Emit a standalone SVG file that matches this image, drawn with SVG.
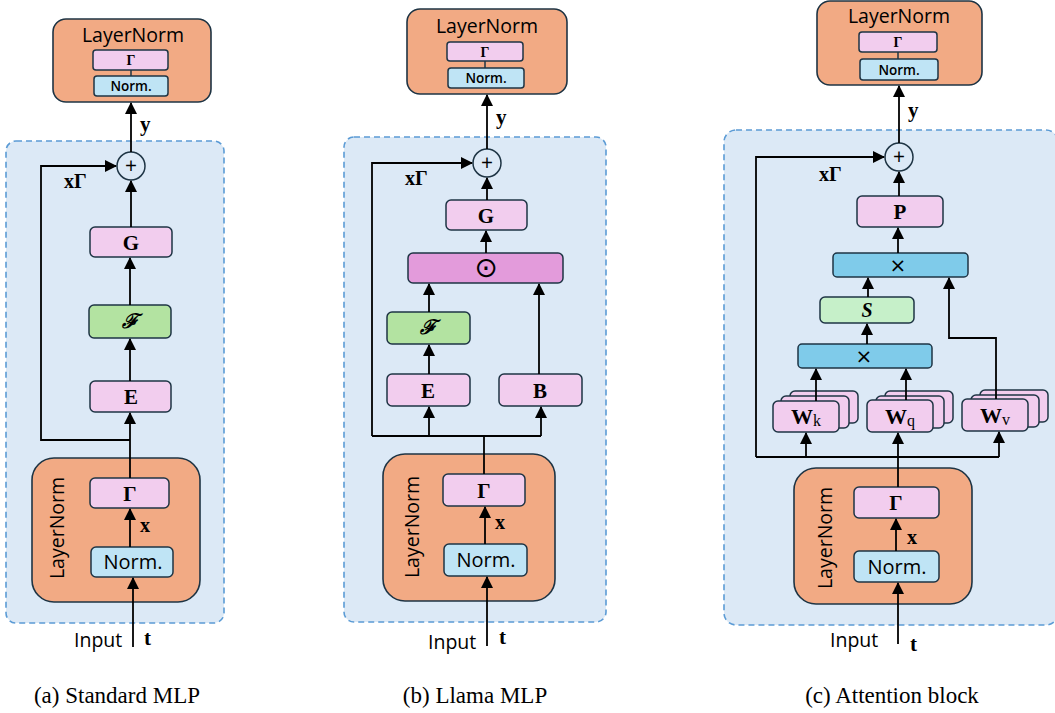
<svg xmlns="http://www.w3.org/2000/svg" width="1055" height="713" viewBox="0 0 1055 713">
<style>
  .panel{fill:#DCE9F6;stroke:#5B9BD5;stroke-width:1.6;stroke-dasharray:6 4}
  .ln{fill:#F2AA84;stroke:#1E3444;stroke-width:1.6}
  .pink{fill:#F2CDEE;stroke:#1E3444;stroke-width:1.5}
  .norm{fill:#BFE4F5;stroke:#1E3444;stroke-width:1.5}
  .green{fill:#B3E3A1;stroke:#1E3444;stroke-width:1.5}
  .lgreen{fill:#C6F0C9;stroke:#1E3444;stroke-width:1.5}
  .mag{fill:#E39BDB;stroke:#1E3444;stroke-width:1.5}
  .blue{fill:#7FCBEA;stroke:#1E3444;stroke-width:1.5}
  .sum{fill:#DCE9F6;stroke:#1E3444;stroke-width:1.5}
  .wire{fill:none;stroke:#000;stroke-width:1.8}
  .arr{fill:none;stroke:#000;stroke-width:1.8;marker-end:url(#ah)}
  .sans{font-family:"Open Sans","Liberation Sans",sans-serif;fill:#000}
  .math{font-family:"Liberation Serif",serif;font-weight:bold;fill:#000}
  .cap{font-family:"Liberation Serif",serif;font-size:23px;fill:#000}
  .mid{text-anchor:middle}
  .script{font-family:"DejaVu Serif",serif;font-style:italic;font-weight:bold;font-size:20px}
</style>
<defs>
  <marker id="ah" markerUnits="userSpaceOnUse" markerWidth="12" markerHeight="12" refX="11" refY="6" orient="auto">
    <path d="M0,0 L12,6 L0,12 z" fill="#000"/>
  </marker>
</defs>

<!-- ===================== (a) Standard MLP ===================== -->
<g id="a-panel"><rect class="panel" x="6" y="141" width="218" height="482" rx="10"/></g>

<g id="a-ln-top">
  <rect class="ln" x="53" y="19" width="158" height="83" rx="13"/>
  <text class="sans mid" x="133" y="42" font-size="19.5">LayerNorm</text>
  <line x1="131" y1="70" x2="131" y2="76" stroke="#1E3444" stroke-width="1.5"/>
  <rect class="pink" x="93" y="50" width="75" height="20" rx="3"/>
  <text class="math mid" x="131" y="65" font-size="14">Γ</text>
  <rect class="norm" x="94" y="76" width="74" height="20" rx="3"/>
  <text class="sans mid" x="131" y="91" font-size="13.5" font-weight="600">Norm.</text>
</g>

<g id="a-sum">
  <circle class="sum" cx="131" cy="166" r="14"/>
  <text class="sans mid" x="131" y="173" font-size="21">+</text>
</g>
<g id="a-G"><rect class="pink" x="90" y="227" width="82" height="30" rx="5"/><text class="math mid" x="131" y="250" font-size="21">G</text></g>
<g id="a-F"><rect class="green" x="89" y="305" width="82" height="33" rx="5"/><text class="script mid" x="130" y="328">ℱ</text></g>
<g id="a-E"><rect class="pink" x="90" y="381" width="81" height="31" rx="5"/><text class="math mid" x="131" y="404" font-size="21">E</text></g>

<g id="a-ln-bottom">
  <rect class="ln" x="32" y="458" width="168" height="144" rx="22"/>
  <text class="sans mid" x="0" y="0" font-size="19.5" transform="translate(64,528) rotate(-90)">LayerNorm</text>
  <rect class="pink" x="90" y="478" width="79" height="30" rx="5"/>
  <text class="math mid" x="130" y="501" font-size="21">Γ</text>
  <rect class="norm" x="91" y="547" width="82" height="30" rx="5"/>
  <text class="sans mid" x="133" y="569" font-size="20">Norm.</text>
</g>

<g id="a-connectors">
  <line class="arr" x1="133" y1="647" x2="133" y2="578"/>
  <line class="arr" x1="130" y1="547" x2="130" y2="509"/>
  <line class="wire" x1="130" y1="478" x2="130" y2="440"/>
  <line class="arr" x1="130" y1="440" x2="130" y2="413"/>
  <polyline class="arr" points="130,440 41,440 41,166 116,166"/>
  <line class="arr" x1="130" y1="381" x2="130" y2="339"/>
  <line class="arr" x1="130" y1="305" x2="130" y2="258"/>
  <line class="arr" x1="131" y1="227" x2="131" y2="181"/>
  <line class="arr" x1="131" y1="152" x2="131" y2="103"/>
</g>
<g id="a-labels">
  <text class="math" x="140" y="131" font-size="21">y</text>
  <text class="math" x="64" y="188" font-size="20">xΓ</text>
  <text class="math" x="140" y="532" font-size="20">x</text>
  <text class="sans" x="74" y="647" font-size="19.5">Input</text>
  <text class="math" x="144" y="645" font-size="21">t</text>
  <text class="cap mid" x="117" y="703">(a) Standard MLP</text>
</g>

<!-- ===================== (b) Llama MLP ===================== -->
<g id="b-panel"><rect class="panel" x="344" y="137" width="262" height="485" rx="10"/></g>

<g id="b-ln-top">
  <rect class="ln" x="407" y="9" width="160" height="85" rx="13"/>
  <text class="sans mid" x="487" y="33" font-size="19.5">LayerNorm</text>
  <line x1="485" y1="61" x2="485" y2="68" stroke="#1E3444" stroke-width="1.5"/>
  <rect class="pink" x="447" y="42" width="76" height="19" rx="3"/>
  <text class="math mid" x="485" y="57" font-size="14">Γ</text>
  <rect class="norm" x="448" y="68" width="76" height="20" rx="3"/>
  <text class="sans mid" x="486" y="83" font-size="13.5" font-weight="600">Norm.</text>
</g>

<g id="b-sum">
  <circle class="sum" cx="487" cy="163" r="14"/>
  <text class="sans mid" x="487" y="170" font-size="21">+</text>
</g>
<g id="b-G"><rect class="pink" x="446" y="200" width="81" height="30" rx="5"/><text class="math mid" x="486" y="223" font-size="21">G</text></g>
<g id="b-odot"><rect class="mag" x="408" y="253" width="155" height="30" rx="5"/><text class="mid" x="486" y="277" font-size="28" font-family="DejaVu Sans,sans-serif">⊙</text></g>
<g id="b-F"><rect class="green" x="387" y="312" width="83" height="32" rx="5"/><text class="script mid" x="428" y="334">ℱ</text></g>
<g id="b-E"><rect class="pink" x="387" y="374" width="83" height="32" rx="5"/><text class="math mid" x="428" y="398" font-size="21">E</text></g>
<g id="b-B"><rect class="pink" x="499" y="374" width="83" height="32" rx="5"/><text class="math mid" x="540" y="398" font-size="21">B</text></g>

<g id="b-ln-bottom">
  <rect class="ln" x="383" y="454" width="172" height="147" rx="22"/>
  <text class="sans mid" x="0" y="0" font-size="19.5" transform="translate(419,527) rotate(-90)">LayerNorm</text>
  <rect class="pink" x="443" y="474" width="82" height="32" rx="5"/>
  <text class="math mid" x="484" y="498" font-size="21">Γ</text>
  <rect class="norm" x="444" y="544" width="83" height="32" rx="5"/>
  <text class="sans mid" x="486" y="567" font-size="20">Norm.</text>
</g>

<g id="b-connectors">
  <line class="arr" x1="487" y1="646" x2="487" y2="577"/>
  <line class="arr" x1="485" y1="544" x2="485" y2="507"/>
  <line class="wire" x1="484" y1="474" x2="484" y2="436"/>
  <polyline class="wire" points="372,436 541,436"/>
  <line class="arr" x1="429" y1="436" x2="429" y2="407"/>
  <line class="arr" x1="541" y1="436" x2="541" y2="407"/>
  <polyline class="arr" points="372,436 372,163 472,163"/>
  <line class="arr" x1="429" y1="374" x2="429" y2="345"/>
  <line class="arr" x1="429" y1="312" x2="429" y2="284"/>
  <line class="arr" x1="539" y1="374" x2="539" y2="284"/>
  <line class="arr" x1="486" y1="253" x2="486" y2="231"/>
  <line class="arr" x1="487" y1="200" x2="487" y2="178"/>
  <line class="arr" x1="487" y1="149" x2="487" y2="95"/>
</g>
<g id="b-labels">
  <text class="math" x="496" y="124" font-size="21">y</text>
  <text class="math" x="405" y="185" font-size="20">xΓ</text>
  <text class="math" x="495" y="529" font-size="20">x</text>
  <text class="sans" x="428" y="649" font-size="19.5">Input</text>
  <text class="math" x="499" y="644" font-size="21">t</text>
  <text class="cap mid" x="475" y="703">(b) Llama MLP</text>
</g>

<!-- ===================== (c) Attention block ===================== -->
<g id="c-panel"><rect class="panel" x="724" y="130" width="334" height="495" rx="12"/></g>

<g id="c-ln-top">
  <rect class="ln" x="817" y="1" width="165" height="84" rx="13"/>
  <text class="sans mid" x="899" y="23" font-size="19.5">LayerNorm</text>
  <line x1="898" y1="52" x2="898" y2="59" stroke="#1E3444" stroke-width="1.5"/>
  <rect class="pink" x="859" y="32" width="78" height="20" rx="3"/>
  <text class="math mid" x="898" y="47" font-size="14">Γ</text>
  <rect class="norm" x="860" y="59" width="78" height="21" rx="3"/>
  <text class="sans mid" x="899" y="75" font-size="13.5" font-weight="600">Norm.</text>
</g>

<g id="c-sum">
  <circle class="sum" cx="899" cy="157" r="14"/>
  <text class="sans mid" x="899" y="164" font-size="21">+</text>
</g>
<g id="c-P"><rect class="pink" x="857" y="196" width="86" height="31" rx="5"/><text class="math mid" x="900" y="219" font-size="21">P</text></g>
<g id="c-mul-top"><rect class="blue" x="833" y="253" width="135" height="24" rx="4"/><text class="mid" x="898" y="272" font-size="20" font-family="DejaVu Sans,sans-serif">×</text></g>
<g id="c-S"><rect class="lgreen" x="820" y="297" width="94" height="26" rx="5"/><text class="math mid" x="867" y="317" font-size="20" font-style="italic">S</text></g>
<g id="c-mul-low"><rect class="blue" x="798" y="344" width="134" height="24" rx="4"/><text class="mid" x="864" y="363" font-size="20" font-family="DejaVu Sans,sans-serif">×</text></g>

<g id="c-Wk">
  <rect class="pink" x="790" y="391" width="68" height="32" rx="5"/>
  <rect class="pink" x="781" y="396" width="68" height="32" rx="5"/>
  <rect class="pink" x="773" y="401" width="66" height="31" rx="5"/>
  <text class="math mid" x="806" y="424" font-size="22">W<tspan font-weight="normal" font-size="16" dy="2">k</tspan></text>
</g>
<g id="c-Wq">
  <rect class="pink" x="885" y="391" width="68" height="32" rx="5"/>
  <rect class="pink" x="876" y="396" width="68" height="32" rx="5"/>
  <rect class="pink" x="867" y="400" width="66" height="32" rx="5"/>
  <text class="math mid" x="900" y="424" font-size="22">W<tspan font-weight="normal" font-size="16" dy="2">q</tspan></text>
</g>
<g id="c-Wv">
  <rect class="pink" x="980" y="390" width="68" height="32" rx="5"/>
  <rect class="pink" x="971" y="395" width="68" height="32" rx="5"/>
  <rect class="pink" x="962" y="399" width="66" height="32" rx="5"/>
  <text class="math mid" x="995" y="423" font-size="22">W<tspan font-weight="normal" font-size="16" dy="2">v</tspan></text>
</g>

<g id="c-ln-bottom">
  <rect class="ln" x="794" y="468" width="178" height="136" rx="22"/>
  <text class="sans mid" x="0" y="0" font-size="19.5" transform="translate(832,538) rotate(-90)">LayerNorm</text>
  <rect class="pink" x="854" y="487" width="85" height="31" rx="5"/>
  <text class="math mid" x="896" y="510" font-size="21">Γ</text>
  <rect class="norm" x="854" y="551" width="85" height="31" rx="5"/>
  <text class="sans mid" x="897" y="574" font-size="20">Norm.</text>
</g>

<g id="c-connectors">
  <line class="arr" x1="898" y1="644" x2="898" y2="583"/>
  <line class="arr" x1="896" y1="551" x2="896" y2="519"/>
  <line class="arr" x1="898" y1="487" x2="898" y2="433"/>
  <polyline class="wire" points="756,457 999,457"/>
  <line class="arr" x1="806" y1="457" x2="806" y2="433"/>
  <line class="arr" x1="999" y1="457" x2="999" y2="432"/>
  <polyline class="arr" points="756,457 756,157 884,157"/>
  <line class="arr" x1="816" y1="401" x2="816" y2="369"/>
  <line class="arr" x1="906" y1="400" x2="906" y2="369"/>
  <polyline class="arr" points="996,399 996,338 949,338 949,278"/>
  <line class="arr" x1="867" y1="344" x2="867" y2="324"/>
  <line class="arr" x1="868" y1="297" x2="868" y2="278"/>
  <line class="arr" x1="898" y1="253" x2="898" y2="228"/>
  <line class="arr" x1="899" y1="196" x2="899" y2="172"/>
  <line class="arr" x1="899" y1="143" x2="899" y2="86"/>
</g>
<g id="c-labels">
  <text class="math" x="908" y="117" font-size="21">y</text>
  <text class="math" x="819" y="181" font-size="20">xΓ</text>
  <text class="math" x="907" y="544" font-size="20">x</text>
  <text class="sans" x="830" y="647" font-size="19.5">Input</text>
  <text class="math" x="910" y="651" font-size="21">t</text>
  <text class="cap mid" x="892" y="703">(c) Attention block</text>
</g>
</svg>
